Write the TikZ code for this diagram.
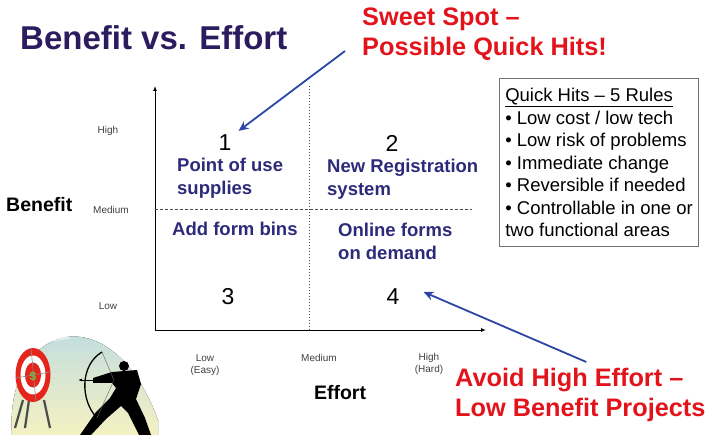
\documentclass[tikz,border=0pt]{standalone}
\usepackage{fontspec}
\setmainfont{Liberation Sans}
\usetikzlibrary{
  positioning,
  arrows.meta,
  calc
}
\definecolor{navy}{HTML}{2D2A7A}
\definecolor{titleblue}{HTML}{2A1C5E}
\definecolor{alert}{HTML}{E3131B}
\definecolor{arrowblue}{HTML}{2C45A6}
\definecolor{sky}{HTML}{A9D3EE}
\definecolor{sand}{HTML}{F4F1C2}
\definecolor{targetred}{HTML}{E5251C}
\definecolor{dollar}{HTML}{6CC04A}

\begin{document}
\begin{tikzpicture}[x=1pt, y=-1pt,
  quad/.style={font=\fontsize{18.5}{23}\selectfont\bfseries, text=navy,
               align=left, inner sep=0pt},
  num/.style={font=\fontsize{23}{23}\selectfont, inner sep=0pt},
  tick/.style={font=\fontsize{10}{12}\selectfont, text=black!75,
               align=center, inner sep=0pt},
  axlabel/.style={font=\fontsize{19.5}{22}\selectfont\bfseries, inner sep=0pt},
  callout/.style={font=\fontsize{25.3}{30}\selectfont\bfseries, text=alert,
               align=left, inner sep=0pt},
  rulebox/.style={draw=black!55, line width=1.1pt, fill=white, anchor=north west,
               minimum width=199pt, minimum height=168pt, inner sep=4pt,
               align=left, font=\fontsize{18.5}{22.5}\selectfont},
  axis/.style={-{Latex[length=5pt,width=4pt]}, line width=0.9pt},
  divider/.style={black!70, line width=0.8pt},
  pointer/.style={-{Stealth[length=10pt,width=9pt]}, line width=1.8pt, draw=arrowblue}
]
  \useasboundingbox (0,0) rectangle (707,435);

  % Heading and callouts
  \node[anchor=base west, inner sep=0pt, text=titleblue,
        font=\fontsize{33}{36}\selectfont\bfseries] (title) at (20,50) {Benefit vs. Effort};

  \node[callout, anchor=north west] (sweet) at (362,8) {Sweet Spot --\\Possible Quick Hits!};
  \node[callout, anchor=north west] (avoid) at (455,368) {Avoid High Effort --\\Low Benefit Projects};

  % Rules box
  \node[rulebox] (rules) at (499,78) {%
    \underline{Quick Hits -- 5 Rules}\\
    • Low cost / low tech\\
    • Low risk of problems\\
    • Immediate change\\
    • Reversible if needed\\
    • Controllable in one or\\
    two functional areas%
  };

  % Axes
  \coordinate (origin) at (155,330);
  \coordinate (ytop) at (155,86);
  \coordinate (xend) at (486,330);
  \draw[axis] (origin) -- (ytop);
  \draw[axis] (origin) -- (xend);

  % Quadrant dividers
  \coordinate (vtop) at (309,86);
  \coordinate (vbot) at (309,330);
  \coordinate (hleft) at (155,209);
  \coordinate (hright) at (472,209);
  \draw[divider, dash pattern=on 1.5pt off 1.5pt] (vtop) -- (vbot);
  \draw[divider, dash pattern=on 3pt off 2pt] (hleft) -- (hright);

  % Tick labels
  \node[tick] (yhigh) at (108,131) {High};
  \node[tick] (ymed) at (111,210) {Medium};
  \node[tick] (ylow) at (108,306) {Low};
  \node[tick] (xlow) at (205,365) {Low\\(Easy)};
  \node[tick] (xmed) at (319,358) {Medium};
  \node[tick] (xhigh) at (429,364) {High\\(Hard)};

  \node[axlabel, anchor=west] (benefit) at (6,205) {Benefit};
  \node[axlabel] (effort) at (340,393) {Effort};

  % Quadrants
  \node[num] (n1) at (225,143) {1};
  \node[num] (n2) at (392,143) {2};
  \node[num] (n3) at (228,297) {3};
  \node[num] (n4) at (393,297) {4};

  \node[quad, anchor=west] (q1) at (177,178) {Point of use\\supplies};
  \node[quad, anchor=west] (q2) at (327,179) {New Registration\\system};
  \node[quad, anchor=west] (q3) at (172,229) {Add form bins};
  \node[quad, anchor=west] (q4) at (338,241) {Online forms\\on demand};

  % Callout arrows
  \draw[pointer] ([xshift=-17pt,yshift=10pt]sweet.south west) -- ([xshift=7pt,yshift=4pt]n1.north east);
  \draw[pointer] ([xshift=6pt,yshift=6pt]avoid.north) -- ([xshift=24pt,yshift=5pt]n4.east);

  % Archer and target
  \fill[top color=sky, bottom color=sand, middle color=sky!45!sand]
    (12,435) .. controls (4,325) and (110,290) .. (158,420) -- (158,435) -- cycle;
  \fill[white, opacity=0.6] (30,345) .. controls (45,335) and (60,336) .. (72,338)
    .. controls (55,341) and (42,343) .. (30,345) -- cycle;

  \draw[black!70, line width=2.2pt] (23,400) -- (15,428);
  \draw[black!70, line width=2.2pt] (29,400) -- (25,428);
  \draw[black!70, line width=2.2pt] (44,400) -- (50,428);
  \fill[targetred] (33,375) ellipse [x radius=17.5pt, y radius=27pt];
  \fill[white] (33,375) ellipse [x radius=12.5pt, y radius=19.5pt];
  \fill[targetred] (33,375) ellipse [x radius=8pt, y radius=12.5pt];
  \draw[black!45, line width=0.6pt] (16,378) -- (50,372);
  \draw[black!45, line width=0.6pt] (31,348) -- (36,402);
  \node[text=dollar, font=\fontsize{12}{12}\selectfont\bfseries, inner sep=0pt] (sign) at (33,376) {\$};

  \fill[black] (124,366) circle (5pt);
  \fill[black] (112,372) -- (137,370) -- (141,384) -- (136,399) -- (145,418)
    -- (151,435) -- (139,435) -- (128,413) -- (121,406) -- (106,419) -- (91,435)
    -- (80,435) -- (96,412) -- (110,398) -- (116,388) -- (112,383) -- (93,383)
    -- (93,378) -- cycle;
  \draw[black, line width=1.3pt] (102,352) .. controls (80,365) and (80,400) .. (97,418);
  \draw[black!60, line width=0.4pt] (102,352) -- (114,380) -- (97,418);
  \draw[black, line width=0.8pt, -{Latex[length=4pt]}] (116,380) -- (78,380);
\end{tikzpicture}
\end{document}
